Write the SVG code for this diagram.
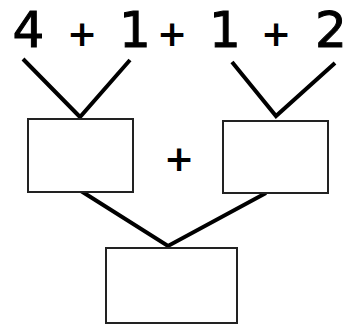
<svg xmlns="http://www.w3.org/2000/svg" width="354" height="329" viewBox="0 0 354 329">
<style>
.num{font-family:"DejaVu Sans",sans-serif;font-size:50px;fill:#000;stroke:#000;stroke-width:1;text-anchor:middle}
.op{font-family:"DejaVu Sans",sans-serif;font-size:36px;font-weight:bold;fill:#000;text-anchor:middle}
.box{fill:#fff;stroke:#222;stroke-width:2}
.ln{stroke:#000;stroke-width:4;stroke-linecap:butt;fill:none}
</style>
<rect width="354" height="329" fill="#fff"/>
<g id="expr">
<text class="num" x="28.5" y="47">4</text>
<text class="op" x="82" y="46">+</text>
<text class="num" x="135" y="47">1</text>
<text class="op" x="172" y="46">+</text>
<text class="num" x="225" y="47">1</text>
<text class="op" x="276" y="46">+</text>
<text class="num" x="331" y="47">2</text>
</g>
<g id="connectors">
<polyline class="ln" points="23,59 80,117 130,60"/>
<polyline class="ln" points="232,62 276,116 335,63"/>
<polyline class="ln" points="81,191 168,246 266,193"/>
</g>
<g id="box1"><rect class="box" x="28" y="119" width="105" height="73"/></g>
<g id="box2"><rect class="box" x="223" y="121" width="105" height="72"/></g>
<g id="box3"><rect class="box" x="106" y="248" width="131" height="75"/></g>
<g id="plus-mid"><text class="op" x="179" y="171">+</text></g>
</svg>
